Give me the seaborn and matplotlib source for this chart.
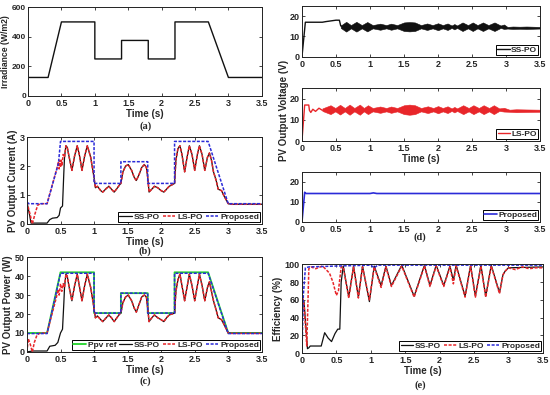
import numpy as np
import pandas as pd
import matplotlib
matplotlib.use("Agg")
import matplotlib.pyplot as plt
import seaborn as sns

sns.set_style("ticks")
plt.rcParams['font.family'] = ['Liberation Sans', 'DejaVu Sans']
plt.rcParams['font.weight'] = 'bold'
plt.rcParams['axes.labelweight'] = 'bold'

# ---- (a) irradiance profile
irr_t = [0, 0.3, 0.5, 1.0, 1.0, 1.4, 1.4, 1.8, 1.8, 2.2, 2.2, 2.7, 3.0, 3.5]
irr_v = [125, 125, 500, 500, 250, 250, 375, 375, 250, 250, 500, 500, 125, 125]

# ---- oscillating part shared by SS-PO and LS-PO (after ~0.56 s)
osc_t = [0.56, 0.58, 0.6, 0.63, 0.67, 0.71, 0.75, 0.78, 0.82, 0.86, 0.9, 0.95, 1.0, 1.02,
         1.05, 1.1, 1.13, 1.18, 1.22, 1.26, 1.3, 1.34, 1.38, 1.4, 1.43, 1.47, 1.51, 1.56,
         1.6, 1.63, 1.67, 1.71, 1.75, 1.78, 1.8, 1.82, 1.86, 1.9, 1.95, 2.0, 2.04, 2.08,
         2.12, 2.16, 2.2, 2.22, 2.25, 2.28, 2.31, 2.35, 2.39, 2.42, 2.46, 2.5, 2.54, 2.57,
         2.61, 2.65, 2.69, 2.72, 2.75, 2.78, 2.82, 2.85, 2.9, 2.93, 3.0, 3.05, 3.5]
osc_i = [2.3, 2.7, 2.65, 2.3, 1.85, 2.35, 2.7, 2.4, 1.85, 2.35, 2.7, 2.3, 1.6, 1.25,
         1.3, 1.15, 1.1, 1.22, 1.3, 1.2, 1.1, 1.22, 1.35, 1.4, 1.8, 2.0, 2.05, 1.85,
         1.6, 1.5, 1.7, 1.95, 2.05, 1.95, 1.6, 1.1, 1.2, 1.3, 1.25, 1.15, 1.1, 1.2,
         1.3, 1.35, 1.4, 2.2, 2.6, 2.7, 2.4, 1.8, 2.35, 2.7, 2.4, 1.85, 2.4, 2.7,
         2.4, 1.85, 2.3, 2.45, 2.2, 1.8, 1.5, 1.2, 1.15, 1.0, 0.7, 0.68, 0.68]
osc_p = [34, 41, 40, 34, 27, 35, 41, 35, 27, 35, 41, 34, 23, 18,
         19, 17, 16, 18, 19.5, 18, 16, 18, 20, 20.5, 26, 29, 30, 27,
         23, 21, 25, 29, 30, 29, 23, 16, 18, 19.5, 18, 17, 16, 18,
         19.5, 20, 20.5, 32, 38, 41, 35, 27, 35, 41, 35, 27, 35, 41,
         35, 27, 34, 37, 32, 27, 22, 18, 17, 15, 10, 9.8, 9.8]

# ---- (b) current start-up
ss_i_t = [0, 0.04, 0.06, 0.3, 0.34, 0.38, 0.45, 0.48, 0.5, 0.53, 0.55]
ss_i_v = [0.75, 0.3, 0.03, 0.03, 0.15, 0.2, 0.22, 0.3, 0.55, 0.62, 1.8]
ls_i_t = [0, 0.05, 0.08, 0.12, 0.16, 0.2, 0.3, 0.45, 0.47, 0.48, 0.49, 0.5, 0.51, 0.52, 0.54]
ls_i_v = [0.75, 0.3, 0.0, 0.35, 0.65, 0.7, 0.7, 1.95, 2.15, 1.9, 2.2, 1.95, 2.2, 2.0, 2.4]
pr_i_t = [0, 0.03, 0.3, 0.47, 0.5, 1.0, 1.0, 1.4, 1.4, 1.8, 1.8, 2.2, 2.2, 2.7, 3.0, 3.5]
pr_i_v = [0.75, 0.7, 0.7, 2.1, 2.85, 2.85, 1.4, 1.4, 2.15, 2.15, 1.4, 1.4, 2.85, 2.85, 0.7, 0.7]

# ---- (c) power start-up
ref_p_t = [0, 0.3, 0.5, 1.0, 1.0, 1.4, 1.4, 1.8, 1.8, 2.2, 2.2, 2.7, 3.0, 3.5]
ref_p_v = [10, 10, 42, 42, 20.5, 20.5, 31, 31, 20.5, 20.5, 42, 42, 10, 10]
pr_p_v = [9.7, 9.7, 41.5, 41.5, 20.5, 20.5, 31, 31, 20.5, 20.5, 41.5, 41.5, 9.7, 9.7]
ss_p_t = [0, 0.05, 0.08, 0.3, 0.34, 0.42, 0.46, 0.5, 0.53, 0.55]
ss_p_v = [0, 0.3, 0.5, 0.5, 3, 3.5, 5, 10, 12, 26]
ls_p_t = [0, 0.02, 0.05, 0.08, 0.11, 0.15, 0.2, 0.3, 0.44, 0.46, 0.48, 0.5, 0.52, 0.54]
ls_p_v = [0, 7, 4, 0, 5, 9, 10, 10, 29, 33, 30, 36, 32, 36]

# ---- (d) voltages: start-up line + oscillation envelope (centre, half-width)
ss_v_t = [0, 0.05, 0.3, 0.35, 0.5, 0.55, 0.57, 0.6]
ss_v_v = [0, 17, 17, 17.3, 18, 18, 15.2, 14.8]
ss_bt = [0.57, 0.65, 0.72, 0.8, 0.88, 0.96, 1.04, 1.15, 1.24, 1.31, 1.4, 1.5, 1.58, 1.66,
         1.75, 1.84, 1.92, 2.0, 2.07, 2.14, 2.2, 2.24, 2.28, 2.36, 2.44, 2.51, 2.58, 2.66,
         2.74, 2.83, 2.92, 2.97, 3.02, 3.1, 3.2, 3.3, 3.4, 3.5]
ss_bc = [14.8] * 32 + [14.3] * 6
ss_bh = [0.6, 2.4, 0.8, 2.4, 0.8, 2.3, 0.8, 1.5, 0.8, 1.5, 0.8, 2.1, 2.3, 2.1,
         0.8, 1.6, 0.8, 1.7, 0.8, 1.6, 0.6, 1.3, 0.6, 2.1, 0.8, 2.1, 0.8, 2.1,
         0.8, 2.1, 0.6, 1.1, 0.4, 0.6, 0.5, 0.6, 0.5, 0.4]
ls_v_t = [0, 0.04, 0.1, 0.11, 0.13, 0.16, 0.2, 0.25, 0.3]
ls_v_v = [0, 17, 17, 14.5, 13.5, 15, 14, 15.5, 14.5]
ls_bt = [0.3, 0.42, 0.49, 0.56, 0.63, 0.7, 0.77, 0.85, 0.91, 0.97, 1.04, 1.15, 1.24, 1.31,
         1.4, 1.5, 1.58, 1.66, 1.75, 1.85, 1.93, 2.0, 2.07, 2.14, 2.2, 2.24, 2.28, 2.37,
         2.45, 2.52, 2.6, 2.67, 2.75, 2.82, 2.9, 2.97, 3.05, 3.15, 3.3, 3.5]
ls_bc = [14.8] * 36 + [14.3] * 4
ls_bh = [0.6, 2.1, 0.8, 2.3, 0.8, 2.4, 0.8, 2.4, 0.8, 2.1, 0.8, 1.5, 0.8, 1.5,
         0.8, 2.1, 2.4, 2.1, 0.8, 1.6, 0.8, 1.7, 0.8, 1.6, 0.6, 1.3, 0.6, 2.1,
         0.8, 2.1, 0.8, 2.1, 0.8, 2.1, 0.6, 0.9, 0.5, 0.7, 0.6, 0.5]
pr_v_t = [0, 0.04, 0.06, 1.0, 1.05, 1.1, 3.5]
pr_v_v = [0, 14.8, 14.2, 14.2, 14.5, 14.2, 14.2]

# ---- (e) efficiency
ss_e_t = [0, 0.01, 0.03, 0.08, 0.1, 0.12, 0.28, 0.33, 0.38, 0.43, 0.48, 0.52, 0.55, 0.57,
          0.6, 0.68, 0.75, 0.82, 0.88, 0.98, 1.05, 1.15, 1.22, 1.3, 1.45, 1.63, 1.78, 1.86,
          1.95, 2.06, 2.15, 2.2, 2.24, 2.37, 2.45, 2.52, 2.6, 2.67, 2.75, 2.87, 2.92, 2.95,
          3.0, 3.5]
ss_e_v = [0, 60, 58, 5, 6, 8, 8, 23, 17, 13, 22, 27, 27, 80,
          98, 63, 98, 63, 98, 58, 98, 76, 98, 76, 99, 64, 99, 76,
          99, 76, 98, 82, 99, 64, 99, 64, 99, 64, 99, 68, 88, 92,
          96, 97]
ls_e_t = [0, 0.01, 0.03, 0.07, 0.1, 0.13, 0.2, 0.3, 0.4, 0.45, 0.5, 0.53, 0.57,
          0.6, 0.68, 0.75, 0.82, 0.88, 0.98, 1.05, 1.15, 1.22, 1.3, 1.45, 1.63, 1.78, 1.86,
          1.95, 2.06, 2.15, 2.2, 2.24, 2.37, 2.45, 2.52, 2.6, 2.67, 2.75, 2.87, 2.92, 2.95,
          3.0, 3.1, 3.2, 3.3, 3.4, 3.5]
ls_e_v = [0, 62, 55, 8, 95, 97, 95, 98, 90, 80, 65, 70, 97,
          97, 62, 97, 62, 97, 60, 97, 74, 97, 75, 98, 63, 98, 75,
          98, 75, 97, 78, 98, 63, 98, 63, 98, 63, 98, 67, 88, 92,
          96, 94, 97, 95, 96, 96]
pr_e_t = [0, 0.02, 0.05, 0.1, 0.5, 1.0, 1.05, 1.1, 3.5]
pr_e_v = [0, 65, 96, 97, 98, 99, 96, 99, 99]

BLK, RED, BLU, GRN = "#111111", "#e8262a", "#2b2bd8", "#22d42b"
DASH = (0, (2.0, 1.0))
FS = 6.5


def line(ax, t, v, color, ls="-", lw=0.9, label=None):
    sns.lineplot(x=t, y=v, ax=ax, color=color, linestyle=ls, linewidth=lw,
                 sort=False, estimator=None, label=label, legend=False)


def style(ax, ylim, yticks, ylabel=None, xlabel=True):
    ax.set_xlim(0, 3.5)
    ax.set_ylim(*ylim)
    ax.set_xticks([0, 0.5, 1, 1.5, 2, 2.5, 3, 3.5])
    ax.set_xticklabels(["0", "0.5", "1", "1.5", "2", "2.5", "3", "3.5"])
    ax.set_yticks(yticks)
    ax.tick_params(direction="in", top=True, right=True, labelsize=FS,
                   length=2.5, width=0.6, pad=2)
    ax.tick_params(axis="y", pad=1.5)
    for s in ax.spines.values():
        s.set_linewidth(0.7)
        s.set_color("#222222")
    if xlabel:
        ax.set_xlabel("Time (s)", fontsize=7, labelpad=1)
    if ylabel:
        ax.set_ylabel(ylabel, fontsize=7, labelpad=1)


def legend(ax, ncol, **kw):
    lg = ax.legend(loc="lower right", ncol=ncol, fontsize=6, frameon=True, fancybox=False,
                   edgecolor="black", framealpha=1, borderpad=0.15, handlelength=1.5,
                   handletextpad=0.2, columnspacing=0.4, borderaxespad=0.2, **kw)
    lg.get_frame().set_linewidth(0.7)
    for tx in lg.get_texts():
        tx.set_fontweight("bold")


fig = plt.figure(figsize=(5.5, 3.95), dpi=100)

# (a)
ax = fig.add_axes([0.051, 0.757, 0.425, 0.225])
line(ax, irr_t, irr_v, BLK, lw=1.0)
style(ax, (0, 600), [0, 200, 400, 600])
ax.tick_params(axis="y", labelsize=6)
fig.text(0.001, 0.8695, "Irradiance (W/m2)", rotation=90, ha="left", va="center",
         fontsize=6.2, fontweight="bold")

# (b)
ax = fig.add_axes([0.049, 0.433, 0.427, 0.220])
line(ax, ss_i_t + osc_t, ss_i_v + osc_i, BLK, label="SS-PO")
line(ax, ls_i_t + osc_t, ls_i_v + osc_i, RED, DASH, 1.1, label="LS-PO")
line(ax, pr_i_t, pr_i_v, BLU, DASH, 1.1, label="Proposed")
style(ax, (0, 3), [0, 1, 2, 3], "PV Output Current (A)")
legend(ax, 3)

# (c)
ax = fig.add_axes([0.049, 0.109, 0.427, 0.240])
line(ax, ref_p_t, ref_p_v, GRN, lw=1.3, label="Ppv ref")
line(ax, ss_p_t + osc_t, ss_p_v + osc_p, BLK, label="SS-PO")
line(ax, ls_p_t + osc_t, ls_p_v + osc_p, RED, DASH, 1.1, label="LS-PO")
line(ax, ref_p_t, pr_p_v, BLU, DASH, 1.1, label="Proposed")
style(ax, (0, 50), [0, 10, 20, 30, 40, 50], "PV Output Power (W)")
legend(ax, 4)

# (d) three stacked voltage panels
ax1 = fig.add_axes([0.549, 0.856, 0.433, 0.129])
line(ax1, ss_v_t, ss_v_v, BLK, lw=1.0, label="SS-PO")
c, h = np.array(ss_bc), np.array(ss_bh)
ax1.fill_between(ss_bt, c - h, c + h, color=BLK, lw=0.4)
style(ax1, (0, 25), [0, 10, 20], xlabel=False)
legend(ax1, 1)

ax2 = fig.add_axes([0.549, 0.643, 0.433, 0.134])
line(ax2, ls_v_t, ls_v_v, RED, lw=1.0, label="LS-PO")
c, h = np.array(ls_bc), np.array(ls_bh)
ax2.fill_between(ls_bt, c - h, c + h, color=RED, lw=0.4)
style(ax2, (0, 25), [0, 10, 20])
legend(ax2, 1)

ax3 = fig.add_axes([0.549, 0.438, 0.433, 0.127])
line(ax3, pr_v_t, pr_v_v, BLU, lw=1.2, label="Proposed")
style(ax3, (0, 25), [0, 10, 20], xlabel=False)
legend(ax3, 1)

fig.text(0.516, 0.72, "PV Output Voltage (V)", rotation=90, ha="center", va="center",
         fontsize=7, fontweight="bold")

# (e)
ax = fig.add_axes([0.549, 0.106, 0.438, 0.225])
line(ax, ss_e_t, ss_e_v, BLK, label="SS-PO")
line(ax, ls_e_t, ls_e_v, RED, DASH, 1.1, label="LS-PO")
line(ax, pr_e_t, pr_e_v, BLU, DASH, 1.1, label="Proposed")
style(ax, (0, 100), [0, 20, 40, 60, 80, 100], "Efficiency (%)")
legend(ax, 3)

# panel letters
for x, y, s in [(0.264, 0.681, "(a)"), (0.264, 0.365, "(b)"), (0.264, 0.036, "(c)"),
                (0.764, 0.400, "(d)"), (0.764, 0.026, "(e)")]:
    fig.text(x, y, s, ha="center", va="center", fontsize=7.5, fontweight="bold",
             family=["Liberation Serif", "DejaVu Serif"])

fig.savefig("out.png", dpi=100)
